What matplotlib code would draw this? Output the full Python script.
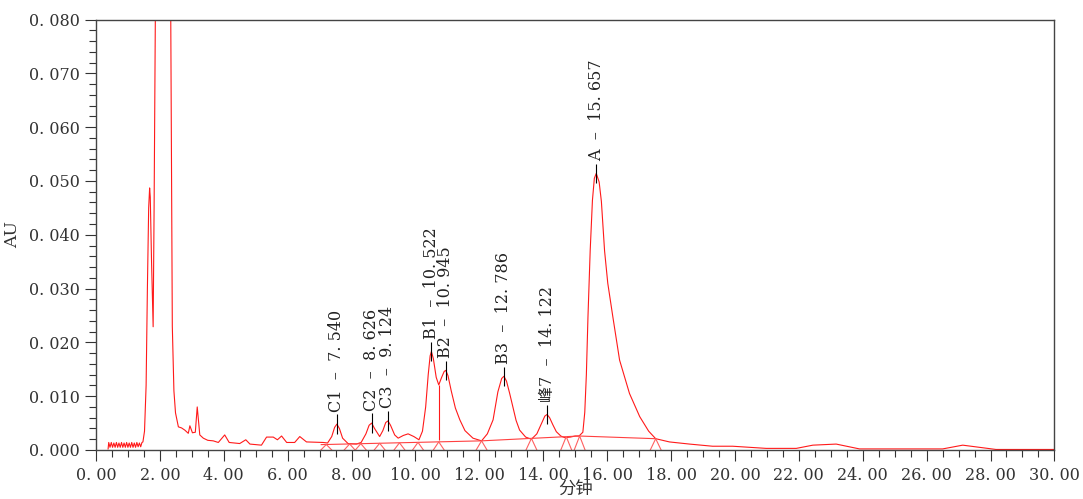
import matplotlib.pyplot as plt
from matplotlib.ticker import MultipleLocator, FuncFormatter

plt.rcParams['font.family'] = ['DejaVu Serif', 'Noto Sans CJK SC']

# Trace (minutes, AU)
tiempo = [0.38, 0.40, 0.44, 0.48, 0.52, 0.56, 0.60, 0.64, 0.68, 0.72, 0.76, 0.80, 0.84,
          0.88, 0.92, 0.96, 1.00, 1.04, 1.08, 1.12, 1.16, 1.20, 1.24, 1.28, 1.32, 1.36,
          1.40, 1.44, 1.47, 1.52, 1.57, 1.61, 1.65, 1.68, 1.70, 1.74, 1.79, 1.82, 1.86,
          1.95, 2.25, 2.34, 2.37, 2.39, 2.44, 2.49, 2.58, 2.68, 2.78, 2.89, 2.94, 3.02,
          3.11, 3.17, 3.25, 3.36, 3.50, 3.67, 3.83, 4.03, 4.17, 4.50, 4.69, 4.82, 5.18,
          5.34, 5.55, 5.68, 5.81, 5.97, 6.22, 6.38, 6.59, 7.11, 7.25, 7.38, 7.47, 7.54,
          7.62, 7.72, 7.89, 8.15, 8.30, 8.45, 8.55, 8.63, 8.72, 8.88, 8.98, 9.07, 9.14,
          9.22, 9.35, 9.46, 9.62, 9.77, 9.95, 10.11, 10.22, 10.32, 10.40, 10.46, 10.50,
          10.56, 10.65, 10.73, 10.82, 10.90, 10.95, 11.02, 11.12, 11.25, 11.39, 11.55,
          11.80, 12.07, 12.25, 12.43, 12.58, 12.70, 12.77, 12.85, 12.95, 13.05, 13.15,
          13.26, 13.45, 13.63, 13.80, 13.95, 14.05, 14.12, 14.20, 14.30, 14.41, 14.55,
          14.67, 14.85, 15.00, 15.12, 15.24, 15.30, 15.35, 15.40, 15.47, 15.54, 15.60,
          15.66, 15.75, 15.82, 15.92, 16.02, 16.18, 16.39, 16.70, 17.02, 17.30, 17.52,
          17.95, 18.58, 19.30, 19.93, 20.98, 21.92, 22.44, 23.17, 23.90, 26.50, 27.13,
          28.17, 30.00]
absorbancia = [0.0002, 0.0014, 0.0005, 0.0014, 0.0005, 0.0013, 0.0005, 0.0014, 0.0005,
               0.0013, 0.0005, 0.0014, 0.0005, 0.0013, 0.0005, 0.0014, 0.0005, 0.0013,
               0.0005, 0.0014, 0.0005, 0.0013, 0.0005, 0.0014, 0.0006, 0.0013, 0.0006,
               0.0014, 0.0015, 0.0035, 0.0120, 0.0300, 0.0450, 0.0487, 0.0470, 0.0350,
               0.0229, 0.0450, 0.0820, 0.1500, 0.1500, 0.0820, 0.0450, 0.0230, 0.0110,
               0.0069, 0.0043, 0.0041, 0.0037, 0.0031, 0.0045, 0.0032, 0.0033, 0.0080,
               0.0028, 0.0022, 0.0018, 0.0017, 0.0014, 0.0028, 0.0014, 0.0012, 0.0019,
               0.0011, 0.0009, 0.0024, 0.0024, 0.0019, 0.0026, 0.0014, 0.0014, 0.0025,
               0.0015, 0.0014, 0.0013, 0.0025, 0.0042, 0.0048, 0.0040, 0.0022, 0.0012,
               0.0011, 0.0014, 0.0030, 0.0046, 0.0050, 0.0040, 0.0025, 0.0036, 0.0051,
               0.0054, 0.0046, 0.0028, 0.0022, 0.0027, 0.0030, 0.0025, 0.0019, 0.0035,
               0.0080, 0.0140, 0.0175, 0.0183, 0.0170, 0.0135, 0.0121, 0.0135, 0.0146,
               0.0148, 0.0138, 0.0110, 0.0078, 0.0056, 0.0036, 0.0022, 0.0017, 0.0030,
               0.0056, 0.0108, 0.0133, 0.0137, 0.0128, 0.0105, 0.0080, 0.0055, 0.0037,
               0.0024, 0.0020, 0.0030, 0.0050, 0.0063, 0.0066, 0.0060, 0.0047, 0.0034,
               0.0026, 0.0023, 0.0024, 0.0026, 0.0026, 0.0033, 0.0070, 0.0140, 0.0247,
               0.0371, 0.0464, 0.0505, 0.0514, 0.0498, 0.0462, 0.0370, 0.0310, 0.0247,
               0.0167, 0.0105, 0.0062, 0.0035, 0.0021, 0.0015, 0.0011, 0.0007, 0.0007,
               0.0003, 0.0003, 0.0009, 0.0011, 0.0002, 0.0002, 0.0009, 0.0001, 0.0001]

# Integration baseline and peak boundaries
base_t = [7.05, 12.07, 15.12, 17.52]
base_au = [0.0010, 0.0017, 0.0026, 0.0021]
limites = [7.21, 7.94, 8.29, 8.88, 9.50, 10.08, 10.73, 12.07, 13.63, 14.72, 15.14, 17.52]
valle_t = 10.73
valle_au = [0.0019, 0.0121]

# Peak labels
nombres = ['C1', 'C2', 'C3', 'B1', 'B2', 'B3', '峰7', 'A']
tiempos_ret = ['7.540', '8.626', '9.124', '10.522', '10.945', '12.786', '14.122', '15.657']
pico_t = [7.54, 8.63, 9.14, 10.50, 10.95, 12.77, 14.12, 15.66]
pico_au = [0.0048, 0.0050, 0.0054, 0.0183, 0.0148, 0.0137, 0.0066, 0.0514]

fig = plt.figure(figsize=(10.83, 4.99), dpi=100)
ax = fig.add_axes([0.0886, 0.0982, 0.8850, 0.8627])

ax.plot(tiempo, absorbancia, color='#ff1a1a', lw=0.8)
ax.plot(base_t, base_au, color='#ff4040', lw=0.8)
ax.vlines(valle_t, valle_au[0], valle_au[1], color='#ff1a1a', lw=0.8)

# little tent markers at the peak boundaries
for t in limites:
    for i in range(len(base_t) - 1):
        if base_t[i] <= t <= base_t[i + 1] + 0.01:
            f = (t - base_t[i]) / (base_t[i + 1] - base_t[i])
            y = base_au[i] + f * (base_au[i + 1] - base_au[i])
            break
    ax.plot([t - 0.17, t, t + 0.17], [0, y, 0], color='#ff6060', lw=0.8)

for n, rt, t, h in zip(nombres, tiempos_ret, pico_t, pico_au):
    ax.vlines(t, h - 0.0018, h + 0.0018, color='black', lw=0.8)
    ent, dec = rt.split('.')
    ax.annotate(n + '  \u2013  ' + ent + '. ' + dec, xy=(t, h + 0.0018),
                xytext=(0, 2), textcoords='offset points', rotation=90,
                ha='center', va='bottom', fontsize=11.5, color='#222222')

ax.set_xlim(0, 30)
ax.set_ylim(0, 0.080)
ax.xaxis.set_major_locator(MultipleLocator(2))
ax.xaxis.set_minor_locator(MultipleLocator(0.5))
ax.yaxis.set_major_locator(MultipleLocator(0.010))
ax.yaxis.set_minor_locator(MultipleLocator(0.002))
ax.xaxis.set_major_formatter(FuncFormatter(lambda v, p: '%d. 00' % v))
ax.yaxis.set_major_formatter(FuncFormatter(lambda v, p: '0. %03d' % round(v * 1000)))
ax.tick_params(which='major', length=8, width=0.8, labelsize=11.5, colors='#333333')
ax.tick_params(which='minor', length=5, width=0.8, colors='#333333')
ax.tick_params(axis='x', which='major', pad=4)
for s in ax.spines.values():
    s.set_color('#444444')
    s.set_linewidth(1.0)

ax.set_xlabel('分钟', fontsize=12.5, labelpad=-2, color='#333333')
ax.set_ylabel('AU', fontsize=12.5, labelpad=6, color='#333333')

fig.savefig('out.png', dpi=100)
